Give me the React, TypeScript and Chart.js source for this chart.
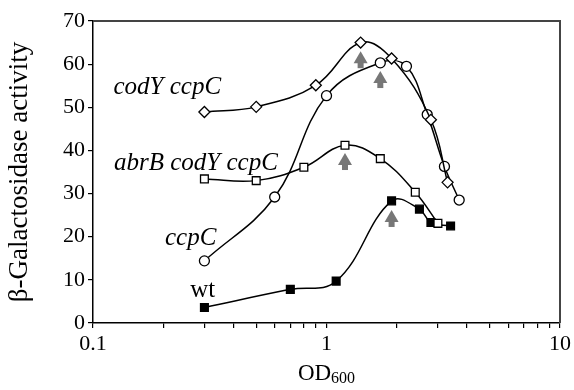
import React, { useEffect, useRef } from "react";
import { Chart, registerables } from "chart.js";

Chart.register(...registerables);

// ---- data ----
const codYccpC_x = [0.3, 0.5, 0.9, 1.4, 1.9, 2.8, 3.3];
const codYccpC_y = [48.9, 50.1, 55.1, 65.0, 61.3, 47.1, 32.6];

const ccpC_x = [0.3, 0.6, 1.0, 1.7, 2.2, 2.7, 3.2, 3.7];
const ccpC_y = [14.4, 29.2, 52.7, 60.3, 59.5, 48.3, 36.3, 28.5];

const abrB_x = [0.3, 0.5, 0.8, 1.2, 1.7, 2.4, 3.0];
const abrB_y = [33.4, 33.0, 36.1, 41.2, 38.1, 30.3, 23.1];

const wt_x = [0.3, 0.7, 1.1, 1.9, 2.5, 2.8, 3.4];
const wt_y = [3.6, 7.8, 9.7, 28.3, 26.4, 23.3, 22.5];

const arrowX = [1.4, 1.7, 1.2, 1.9];
const arrowTipY = [63.0, 58.4, 39.4, 26.2];

const seriesLabels = ["codY ccpC", "abrB codY ccpC", "ccpC", "wt"];
const labelX = [0.208, 0.276, 0.262, 0.295];
const labelY = [54.6, 37.1, 19.7, 7.6];
const labelItalic = [true, true, true, false];

const xMajorTicks = [0.1, 1, 10];
const xAllTicks = [0.1, 0.2, 0.3, 0.4, 0.5, 0.6, 0.7, 0.8, 0.9, 1, 2, 3, 4, 5, 6, 7, 8, 9, 10];
const yTitle = "β-Galactosidase activity";
const xTitleMain = "OD";
const xTitleSub = "600";

const SERIF = "'Liberation Serif', 'Times New Roman', serif";

function pts(xs: number[], ys: number[]) {
  return xs.map((x, i) => ({ x, y: ys[i] }));
}

const overlayPlugin = {
  id: "overlay",
  afterDatasetsDraw(chart: any) {
    const { ctx, chartArea, scales } = chart;
    const xs = scales.x;
    const ys = scales.y;
    ctx.save();
    // top and right frame
    ctx.strokeStyle = "#444";
    ctx.lineWidth = 2;
    ctx.beginPath();
    ctx.moveTo(chartArea.left, chartArea.top);
    ctx.lineTo(chartArea.right, chartArea.top);
    ctx.lineTo(chartArea.right, chartArea.bottom);
    ctx.stroke();

    // arrows
    ctx.fillStyle = "#777";
    for (let i = 0; i < arrowX.length; i++) {
      const px = xs.getPixelForValue(arrowX[i]);
      const py = ys.getPixelForValue(arrowTipY[i]);
      ctx.beginPath();
      ctx.moveTo(px, py);
      ctx.lineTo(px + 7, py + 12);
      ctx.lineTo(px - 7, py + 12);
      ctx.closePath();
      ctx.fill();
      ctx.fillRect(px - 3, py + 11, 6, 6);
    }

    // series labels
    ctx.fillStyle = "#000";
    ctx.textAlign = "center";
    ctx.textBaseline = "middle";
    for (let i = 0; i < seriesLabels.length; i++) {
      ctx.font = (labelItalic[i] ? "italic " : "") + "25px " + SERIF;
      ctx.fillText(
        seriesLabels[i],
        xs.getPixelForValue(labelX[i]),
        ys.getPixelForValue(labelY[i])
      );
    }

    // x title with subscript
    ctx.textAlign = "left";
    ctx.textBaseline = "alphabetic";
    ctx.font = "23px " + SERIF;
    const w1 = ctx.measureText(xTitleMain).width;
    ctx.font = "16px " + SERIF;
    const w2 = ctx.measureText(xTitleSub).width;
    const cx = (chartArea.left + chartArea.right) / 2;
    const startX = cx - (w1 + w2) / 2;
    const baseY = 380;
    ctx.font = "23px " + SERIF;
    ctx.fillText(xTitleMain, startX, baseY);
    ctx.font = "16px " + SERIF;
    ctx.fillText(xTitleSub, startX + w1, baseY + 3);
    ctx.restore();
  },
};

function makeDataset(label: string, data: any[], style: string, fill: string, radius: number) {
  return {
    label,
    data,
    borderColor: "#000",
    borderWidth: 1.5,
    pointStyle: style,
    pointRadius: radius,
    pointBackgroundColor: fill,
    pointBorderColor: "#000",
    pointBorderWidth: 1.3,
    tension: 0.4,
    showLine: true,
    fill: false,
  };
}

export default function App() {
  const ref = useRef<HTMLCanvasElement | null>(null);
  useEffect(() => {
    if (!ref.current) return;
    const chart = new Chart(ref.current, {
      type: "scatter",
      data: {
        datasets: [
          makeDataset("codY ccpC", pts(codYccpC_x, codYccpC_y), "rectRot", "#fff", 5.5),
          makeDataset("ccpC", pts(ccpC_x, ccpC_y), "circle", "#fff", 5),
          makeDataset("abrB codY ccpC", pts(abrB_x, abrB_y), "rect", "#fff", 5.5),
          makeDataset("wt", pts(wt_x, wt_y), "rect", "#000", 5.5),
        ] as any,
      },
      options: {
        animation: false,
        responsive: false,
        layout: { padding: { left: 0, right: 9, top: 21, bottom: 0 } },
        plugins: {
          legend: { display: false },
          tooltip: { enabled: false },
        },
        scales: {
          x: {
            type: "logarithmic",
            min: 0.1,
            max: 10,
            afterBuildTicks: (scale: any) => {
              scale.ticks = xAllTicks.map((v) => ({ value: v, major: xMajorTicks.includes(v) }));
            },
            afterFit: (scale: any) => {
              scale.height = 67;
            },
            ticks: {
              autoSkip: false,
              maxRotation: 0,
              padding: 3,
              color: "#000",
              font: { family: SERIF, size: 22 },
              callback: (v: any) => (xMajorTicks.includes(Number(v)) ? String(v) : ""),
            },
            grid: { display: true, drawOnChartArea: false, drawTicks: true, tickLength: 5, color: "#000", lineWidth: 1.2 },
            border: { display: true, color: "#000", width: 1.5 },
          },
          y: {
            min: 0,
            max: 70,
            afterFit: (scale: any) => {
              scale.width = 93;
            },
            ticks: {
              stepSize: 10,
              padding: 3,
              color: "#000",
              font: { family: SERIF, size: 22 },
            },
            title: {
              display: true,
              text: yTitle,
              color: "#000",
              font: { family: SERIF, size: 27 },
              padding: { top: 4, bottom: 0 },
            },
            grid: { display: true, drawOnChartArea: false, drawTicks: true, tickLength: 5, color: "#000", lineWidth: 1.2 },
            border: { display: true, color: "#000", width: 1.5 },
          },
        },
      } as any,
      plugins: [overlayPlugin],
    });
    return () => chart.destroy();
  }, []);
  return (
    <div style={{ position: "fixed", left: 0, top: 0, width: 574, height: 390, background: "#fff" }}>
      <canvas ref={ref} width={574} height={390} style={{ width: 574, height: 390, display: "block" }} />
    </div>
  );
}
